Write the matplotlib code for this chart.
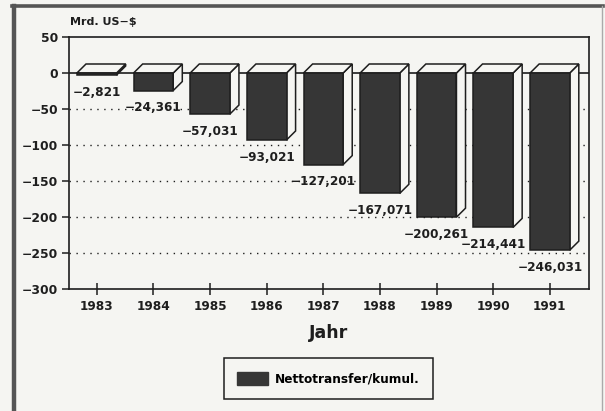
#!/usr/bin/env python3
import matplotlib
matplotlib.use("Agg")
import matplotlib.pyplot as plt
from matplotlib.patches import Polygon, Patch
from matplotlib.lines import Line2D

years = ["1983", "1984", "1985", "1986", "1987", "1988", "1989", "1990", "1991"]
values = [-2.821, -24.361, -57.031, -93.021, -127.201, -167.071, -200.261, -214.441, -246.031]
yticks = [50, 0, -50, -100, -150, -200, -250, -300]
series_name = "Nettotransfer/kumul."

BG = "#f5f5f2"
INK = "#1e1e1e"
BAR = "#363636"


def fmt(v):
    s = "{:.3f}".format(abs(v)).replace(".", ",")
    return ("\u2212" if v < 0 else "") + s


def main():
    plt.rcParams["font.family"] = ["DejaVu Sans"]
    fig = plt.figure(figsize=(6.05, 4.11), dpi=100, facecolor=BG)
    ax = fig.add_axes([69 / 605, 1 - 289 / 411, 520 / 605, 252 / 411])
    ax.set_facecolor(BG)

    xs = list(range(len(values)))
    w = 0.7
    dx = 0.16   # depth offset in x units
    dy = 12.5   # depth offset in y units

    # dotted grid lines and zero line, behind the bars
    for t in yticks[2:-1]:
        ax.axhline(t, color=INK, lw=1.0, ls=(0, (1, 4)), zorder=1)
    ax.axhline(0, color=INK, lw=1.2, zorder=1)

    ax.bar(xs, values, width=w, color=BAR, edgecolor=INK, linewidth=1.1, zorder=3)
    for x, v in zip(xs, values):
        r = x + w / 2
        l = x - w / 2
        side = Polygon([(r, v), (r + dx, v + dy), (r + dx, dy), (r, 0)],
                       closed=True, facecolor=BG, edgecolor=INK, lw=1.1, zorder=2.5)
        top = Polygon([(l, 0), (r, 0), (r + dx, dy), (l + dx, dy)],
                      closed=True, facecolor=BG, edgecolor=INK, lw=1.1, zorder=2.5)
        ax.add_patch(side)
        ax.add_patch(top)
        ax.annotate(fmt(v), (x, v), xytext=(0, -12.5), textcoords="offset points",
                    ha="center", va="center", fontsize=8.7, fontweight="bold",
                    color=INK, zorder=5)

    ax.set_xlim(-0.49, 8.69)
    ax.set_ylim(-300, 50)
    ax.set_xticks(xs)
    ax.set_xticklabels(years)
    ax.set_yticks(yticks)
    ax.set_yticklabels([str(t).replace("-", "\u2212") for t in yticks])
    ax.tick_params(axis="y", direction="out", length=5, width=1.1, pad=3,
                   labelsize=8.9, colors=INK)
    ax.tick_params(axis="x", direction="inout", length=8, width=1.1, pad=4,
                   labelsize=8.7, colors=INK)
    for lab in ax.get_xticklabels() + ax.get_yticklabels():
        lab.set_fontweight("bold")
    for s in ax.spines.values():
        s.set_color(INK)
        s.set_linewidth(1.2)

    ax.set_xlabel("Jahr", fontsize=12.5, fontweight="bold", color=INK, labelpad=8)
    fig.text(70 / 605, 1 - 22 / 411, "Mrd. US\u2212$", fontsize=8, fontweight="bold",
             color=INK, ha="left", va="center")

    handle = Patch(facecolor=BAR, edgecolor=BAR)
    leg = fig.legend([handle], [series_name], loc="center",
                     bbox_to_anchor=(328.5 / 605, 1 - 378.5 / 411),
                     fancybox=False, edgecolor=INK, facecolor=BG, framealpha=1,
                     prop={"size": 8.7, "weight": "bold"}, handlelength=2.5,
                     handleheight=1.3, borderpad=1.12, handletextpad=0.6)
    leg.get_frame().set_linewidth(1.1)

    # outer frame of the scanned page
    fig.add_artist(Line2D([14 / 605, 14 / 605], [0, 1 - 6 / 411], color="#555555", lw=3.2))
    fig.add_artist(Line2D([12 / 605, 603 / 605], [1 - 6 / 411, 1 - 6 / 411], color="#555555", lw=2.6))
    fig.add_artist(Line2D([602 / 605, 602 / 605], [0, 1 - 6 / 411], color="#aaaaaa", lw=1.0))

    fig.savefig("out.png", dpi=100, facecolor=BG)


if __name__ == "__main__":
    main()
